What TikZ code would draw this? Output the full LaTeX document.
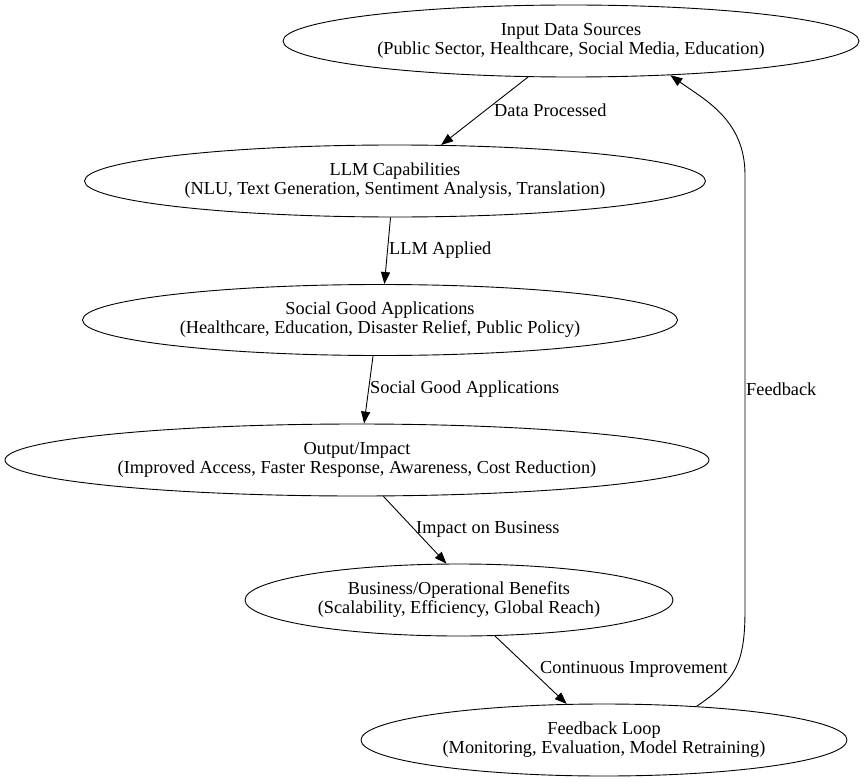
\documentclass[tikz,border=0pt]{standalone}
\usepackage{fontspec}
\setmainfont{Liberation Serif}
\usetikzlibrary{shapes.geometric,arrows.meta}
\begin{document}
\begin{tikzpicture}[x=1pt,y=-1pt,
  box/.style={ellipse,draw,line width=0.9pt,inner sep=0pt,align=center,font=\fontsize{18.3}{19}\selectfont},
  lbl/.style={anchor=west,inner sep=0pt,font=\fontsize{18.3}{19}\selectfont},
  conn/.style={line width=0.9pt,-{Triangle[length=12pt,width=9pt]}}]
\useasboundingbox (0,0) rectangle (866,781);
\node[box,minimum width=576pt,minimum height=72pt] (in) at (571,41) {Input Data Sources\\(Public Sector, Healthcare, Social Media, Education)};
\node[box,minimum width=621pt,minimum height=72pt] (llm) at (395,181) {LLM Capabilities\\(NLU, Text Generation, Sentiment Analysis, Translation)};
\node[box,minimum width=595pt,minimum height=71pt] (sg) at (380,320) {Social Good Applications\\(Healthcare, Education, Disaster Relief, Public Policy)};
\node[box,minimum width=704pt,minimum height=72pt] (out) at (357,460) {Output/Impact\\(Improved Access, Faster Response, Awareness, Cost Reduction)};
\node[box,minimum width=428pt,minimum height=72pt] (bus) at (459,600) {Business/Operational Benefits\\(Scalability, Efficiency, Global Reach)};
\node[box,minimum width=486pt,minimum height=72pt] (fb) at (604,740) {Feedback Loop\\(Monitoring, Evaluation, Model Retraining)};
\draw[conn] (in.-140.7) -- (llm.38.7);
\draw[conn] (llm.-97.9) -- (sg.83.5);
\draw[conn] (sg.-101) -- (out.79);
\draw[conn] (out.-54.2) -- (bus.109.9);
\draw[conn] (bus.-45.8) -- (fb.136.5);
\draw[conn] (fb.20.1) .. controls (735,680) and (745,665) .. (745,610) -- (745,175) .. controls (745,120) and (705,100) .. (in.-19.4);
\node[lbl] (l1) at (494,110) {Data Processed};
\node[lbl] (l2) at (389,250) {LLM Applied};
\node[lbl] (l3) at (370,389) {Social Good Applications};
\node[lbl] (l4) at (416,529) {Impact on Business};
\node[lbl] (l5) at (540,669) {Continuous Improvement};
\node[lbl] (l6) at (746,389) {Feedback};
\end{tikzpicture}
\end{document}
